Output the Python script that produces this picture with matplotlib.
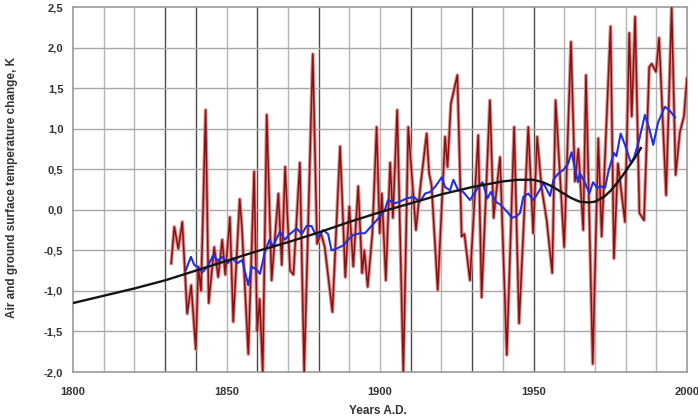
import matplotlib
matplotlib.use("Agg")
import matplotlib.pyplot as plt

# ---- data ----
red_years = [1832.0, 1833.0, 1834.3, 1835.6, 1837.2, 1838.5, 1840.0, 1840.8, 1841.7, 1843.2,
             1844.2, 1846.0, 1847.3, 1848.6, 1849.6, 1851.1, 1852.2, 1854.3, 1855.0, 1857.1,
             1859.0, 1860.0, 1860.8, 1861.8, 1863.1, 1864.7, 1866.9, 1868.0, 1869.1, 1870.7,
             1871.8, 1873.9, 1875.3, 1878.1, 1879.5, 1880.8, 1882.0, 1884.5, 1887.0, 1888.7,
             1890.0, 1891.3, 1892.9, 1894.2, 1894.9, 1896.0, 1897.5, 1898.9, 1899.9, 1900.6,
             1901.9, 1903.3, 1904.2, 1905.6, 1907.6, 1909.2, 1911.7, 1913.2, 1915.2, 1916.0,
             1916.8, 1918.8, 1921.2, 1922.0, 1923.1, 1925.2, 1926.6, 1927.5, 1929.3, 1932.0,
             1933.1, 1935.8, 1937.0, 1939.1, 1941.3, 1943.7, 1945.3, 1948.3, 1949.9, 1951.2,
             1952.6, 1954.3, 1956.1, 1957.2, 1960.0, 1962.2, 1963.5, 1964.6, 1966.2, 1967.1,
             1969.3, 1971.1, 1972.2, 1975.1, 1976.2, 1977.5, 1979.8, 1981.2, 1982.0, 1983.1,
             1984.5, 1986.0, 1987.7, 1988.5, 1989.9, 1990.9, 1993.2, 1995.0, 1996.3, 1997.7,
             1999.0, 2000.0]
red_vals = [-0.66, -0.21, -0.48, -0.15, -1.28, -0.93, -1.72, -0.70, -1.00, 1.23,
            -1.15, -0.46, -0.83, -0.37, -0.80, -0.09, -1.38, 0.13, -0.20, -1.78,
            0.47, -1.50, -1.10, -2.00, 1.17, -0.87, 0.20, -0.68, 0.53, -0.75,
            -0.80, 0.58, -2.00, 1.92, -0.42, -0.29, -0.46, -1.26, 0.78, -0.83,
            0.04, -0.70, 0.29, -0.78, -0.50, -0.95, -0.30, 1.02, -0.29, 0.20,
            -0.87, 0.58, -0.10, 1.23, -2.00, 1.02, -0.25, 0.30, 0.94, 0.45,
            0.30, -0.99, 0.90, 0.53, 1.31, 1.66, -0.33, -0.30, -0.87, 0.92,
            -1.08, 1.35, -0.10, 0.65, -1.79, 1.02, -1.40, 1.02, -0.29, 0.90,
            0.28, -0.13, -0.78, 1.35, -0.46, 2.07, 0.35, 0.75, -0.25, 1.66,
            -1.90, 0.88, -0.33, 2.26, -0.60, 0.57, -0.15, 2.18, 1.15, 2.38,
            -0.04, -0.13, 1.76, 1.80, 1.70, 2.12, 0.18, 2.50, 0.43, 0.96,
            1.15, 1.62]

blue_years = [1836.8, 1838.4, 1839.5, 1841.0, 1842.2, 1843.8, 1845.7, 1847.2, 1848.7, 1850.3,
              1851.9, 1853.5, 1855.1, 1857.1, 1858.2, 1859.8, 1860.9, 1862.5, 1864.0, 1865.1,
              1867.4, 1869.0, 1870.6, 1872.9, 1874.5, 1876.1, 1877.7, 1878.8, 1879.9, 1881.5,
              1883.1, 1884.2, 1885.8, 1888.0, 1889.6, 1891.3, 1893.4, 1895.1, 1897.2, 1898.9,
              1901.6, 1902.6, 1904.8, 1906.4, 1908.7, 1910.9, 1913.0, 1914.7, 1916.3, 1917.9,
              1920.1, 1921.2, 1922.8, 1923.9, 1925.5, 1927.1, 1929.3, 1931.0, 1932.4, 1933.4,
              1935.0, 1936.1, 1937.7, 1939.3, 1941.8, 1942.9, 1944.5, 1945.6, 1946.7, 1948.3,
              1949.9, 1951.0, 1952.1, 1953.2, 1954.3, 1955.4, 1956.5, 1958.1, 1959.7, 1961.3,
              1962.4, 1963.4, 1964.5, 1965.1, 1966.7, 1968.2, 1969.4, 1970.7, 1971.9, 1973.3,
              1974.5, 1976.2, 1977.0, 1978.4, 1979.8, 1981.8, 1982.8, 1984.4, 1986.3, 1987.7,
              1989.0, 1990.6, 1992.8, 1994.2, 1996.1]
blue_vals = [-0.74, -0.58, -0.68, -0.72, -0.77, -0.70, -0.56, -0.63, -0.58, -0.66,
             -0.60, -0.66, -0.62, -0.93, -0.70, -0.74, -0.79, -0.52, -0.37, -0.45,
             -0.27, -0.37, -0.30, -0.23, -0.30, -0.20, -0.20, -0.29, -0.33, -0.25,
             -0.30, -0.50, -0.48, -0.44, -0.37, -0.31, -0.29, -0.29, -0.20, -0.13,
             0.00, 0.12, 0.08, 0.10, 0.14, 0.16, 0.10, 0.20, 0.22, 0.28,
             0.40, 0.28, 0.24, 0.37, 0.24, 0.22, 0.12, 0.22, 0.30, 0.34,
             0.14, 0.22, 0.10, 0.06, -0.04, -0.10, -0.08, -0.04, 0.16, 0.20,
             0.12, 0.18, 0.25, 0.33, 0.25, 0.17, 0.37, 0.45, 0.49, 0.57,
             0.71, 0.53, 0.34, 0.45, 0.34, 0.20, 0.34, 0.27, 0.29, 0.27,
             0.49, 0.70, 0.66, 0.94, 0.80, 0.57, 0.65, 0.86, 1.17, 1.00,
             0.80, 1.08, 1.27, 1.23, 1.14]

trend_years = [1800, 1810, 1820, 1830, 1840, 1850, 1860, 1870, 1880, 1890, 1900, 1910,
               1920, 1930, 1940, 1945, 1950, 1953, 1956, 1959, 1962, 1965, 1968, 1970,
               1973, 1975, 1977, 1979, 1981, 1983, 1985]
trend_vals = [-1.15, -1.06, -0.97, -0.87, -0.75, -0.63, -0.51, -0.40, -0.28, -0.15, -0.03, 0.08,
              0.19, 0.28, 0.35, 0.37, 0.37, 0.34, 0.29, 0.22, 0.15, 0.10, 0.09, 0.10,
              0.16, 0.23, 0.32, 0.42, 0.53, 0.64, 0.76]

x_ticks = [1800, 1850, 1900, 1950, 2000]
y_ticks = [-2.0, -1.5, -1.0, -0.5, 0.0, 0.5, 1.0, 1.5, 2.0, 2.5]
y_tick_labels = ["-2,0", "-1,5", "-1,0", "-0,5", "0,0", "0,5", "1,0", "1,5", "2,0", "2,5"]
dark_grid_years = [1830, 1840, 1860, 1880, 1910, 1930, 1950]

# ---- figure ----
plt.rcParams['font.family'] = ['Liberation Sans', 'DejaVu Sans']
fig = plt.figure(figsize=(6.98, 4.18), dpi=100)
ax = fig.add_axes([73 / 698, 46 / 418, 614 / 698, 365 / 418])

ax.set_xlim(1800, 2000)
ax.set_ylim(-2.0, 2.5)

# grid
for yr in range(1810, 2000, 10):
    c = '#4a4a4a' if yr in dark_grid_years else '#b4b4b4'
    ax.axvline(yr, color=c, lw=1.0, zorder=0)
for yv in y_ticks[1:-1]:
    ax.axhline(yv, color='#a8a8a8', lw=1.0, zorder=0)

ax.plot(red_years, red_vals, color='#d89090', lw=2.6, zorder=2, solid_joinstyle='round')
ax.plot(red_years, red_vals, color='#8b1010', lw=1.1, zorder=3, solid_joinstyle='round')
ax.plot(blue_years, blue_vals, color='#2030e0', lw=1.5, zorder=4)
ax.plot(trend_years, trend_vals, color='#151515', lw=1.7, zorder=5)

ax.set_xticks(x_ticks)
ax.set_xticklabels([str(v) for v in x_ticks])
ax.set_yticks(y_ticks)
ax.set_yticklabels(y_tick_labels)
ax.tick_params(length=0, labelsize=8, colors='#333333', pad=7)
ax.tick_params(axis='x', pad=11)
for lbl in ax.get_xticklabels() + ax.get_yticklabels():
    lbl.set_fontweight('bold')

for s in ax.spines.values():
    s.set_color('#9a9a9a')
    s.set_linewidth(1.2)

fig.text(12 / 698, 1 - 187 / 418, "Air and ground surface temperature change, K",
         rotation=90, ha='center', va='center', fontsize=8.5, fontweight='bold', color='#333333')
fig.text(378 / 698, 1 - 405 / 418, "Years A.D.", ha='center', va='top',
         fontsize=8.5, fontweight='bold', color='#333333')

fig.savefig("out.png", dpi=100)
